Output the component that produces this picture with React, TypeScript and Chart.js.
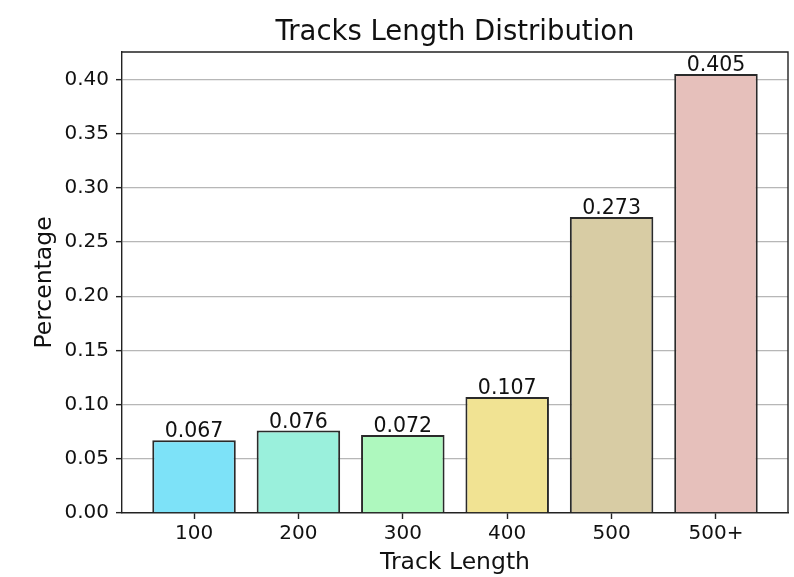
import React, { useEffect, useRef } from "react";
import { Chart, registerables } from "chart.js";

Chart.register(...registerables);

const categories = ["100", "200", "300", "400", "500", "500+"];
const values = [0.067, 0.076, 0.072, 0.107, 0.273, 0.405];
const barColors = ["#7DE2F8", "#9AF0DC", "#AEF8BE", "#F1E393", "#D8CCA4", "#E6C0BB"];
const yTicks = [0, 0.05, 0.1, 0.15, 0.2, 0.25, 0.3, 0.35, 0.4];
const titleText = "Tracks Length Distribution";
const xTitle = "Track Length";
const yTitle = "Percentage";

const FONT = "'DejaVu Sans', sans-serif";

export default function App() {
  const ref = useRef<HTMLCanvasElement | null>(null);

  useEffect(() => {
    const canvas = ref.current;
    if (!canvas) return;

    const overlay = {
      id: "overlay",
      afterDraw(chart: any) {
        const { ctx, chartArea } = chart;
        const ca = chartArea;
        ctx.save();
        // top and right spines
        ctx.strokeStyle = "#222";
        ctx.lineWidth = 1.4;
        ctx.beginPath();
        ctx.moveTo(ca.left, ca.top);
        ctx.lineTo(ca.right, ca.top);
        ctx.lineTo(ca.right, ca.bottom);
        ctx.stroke();

        // value labels
        ctx.fillStyle = "#111";
        ctx.font = `20.5px ${FONT}`;
        ctx.textAlign = "center";
        ctx.textBaseline = "alphabetic";
        const meta = chart.getDatasetMeta(0);
        meta.data.forEach((bar: any, i: number) => {
          ctx.fillText(values[i].toFixed(3), bar.x, bar.y - 3);
        });

        // title
        const cx = (ca.left + ca.right) / 2;
        ctx.font = `27.5px ${FONT}`;
        ctx.fillText(titleText, cx, 40);
        // x title
        ctx.font = `23.5px ${FONT}`;
        ctx.fillText(xTitle, cx, 569);
        // y title
        ctx.translate(50.5, (ca.top + ca.bottom) / 2);
        ctx.rotate(-Math.PI / 2);
        ctx.font = `23.5px ${FONT}`;
        ctx.fillText(yTitle, 0, 0);
        ctx.restore();
      },
    };

    const chart = new Chart(canvas, {
      type: "bar",
      data: {
        datasets: [
          {
            data: values.map((v, i) => ({ x: i, y: v })),
            backgroundColor: barColors,
            borderColor: "#2a2a2a",
            borderWidth: 2,
            barPercentage: 0.8,
            categoryPercentage: 1,
          },
        ],
      },
      options: {
        responsive: false,
        animation: false,
        devicePixelRatio: 1,
        layout: { padding: { top: 52, right: 6, left: 0, bottom: 0 } },
        plugins: {
          legend: { display: false },
          title: { display: false },
          tooltip: { enabled: false },
        },
        scales: {
          x: {
            type: "linear",
            min: -0.69,
            max: 5.69,
            offset: false,
            afterBuildTicks: (axis: any) => {
              axis.ticks = categories.map((_, i) => ({ value: i }));
            },
            afterFit: (scale: any) => {
              scale.height = 64;
            },
            ticks: {
              callback: (v: any) => categories[Math.round(Number(v))] ?? "",
              color: "#111",
              font: { family: FONT, size: 20 },
              padding: 3,
              maxRotation: 0,
              autoSkip: false,
            },
            grid: {
              offset: false,
              drawOnChartArea: false,
              tickLength: 6,
              tickColor: "#222",
              tickWidth: 1.4,
            },
            border: { color: "#222", width: 1.4 },
          },
          y: {
            min: 0,
            max: 0.42525,
            z: 1,
            afterBuildTicks: (axis: any) => {
              axis.ticks = yTicks.map((v) => ({ value: v }));
            },
            afterFit: (scale: any) => {
              scale.width = 122;
            },
            ticks: {
              callback: (v: any) => Number(v).toFixed(2),
              color: "#111",
              font: { family: FONT, size: 20 },
              padding: 7,
            },
            grid: {
              color: (c: any) => (c.tick && c.tick.value === 0 ? "rgba(0,0,0,0)" : "rgba(170,170,170,0.85)"),
              lineWidth: 1.3,
              tickLength: 6,
              tickColor: "#222",
              tickWidth: 1.4,
            },
            border: { color: "#222", width: 1.4 },
          },
        },
      },
      plugins: [overlay],
    });

    return () => chart.destroy();
  }, []);

  return (
    <div style={{ position: "absolute", left: 0, top: 0, width: 794, height: 577, background: "#fff" }}>
      <canvas ref={ref} width={794} height={577} style={{ display: "block", width: 794, height: 577 }} />
    </div>
  );
}
